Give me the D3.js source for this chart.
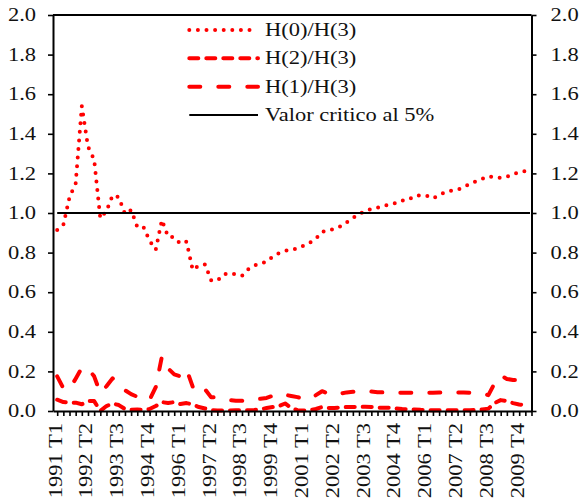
<!DOCTYPE html>
<html>
<head>
<meta charset="utf-8">
<script src="https://cdn.jsdelivr.net/npm/d3@7"></script>
<style>
  body { margin: 0; background: #fff; }
  svg { display: block; }
  text { font-family: "Liberation Serif", serif; fill: #111; }
</style>
</head>
<body>
<svg id="chart" width="579" height="503"></svg>
<script>
// Quarterly sample: 1991 T1 .. 2010 T1
const startYear = 1991;
const nQuarters = 77;
const quarters = d3.range(nQuarters).map(i => `${startYear + Math.floor(i / 4)} T${(i % 4) + 1}`);

// Labelled quarters on the x axis (every fifth quarter)
const tickLabels = ["1991 T1", "1992 T2", "1993 T3", "1994 T4", "1996 T1", "1997 T2", "1998 T3", "1999 T4",
                    "2001 T1", "2002 T2", "2003 T3", "2004 T4", "2006 T1", "2007 T2", "2008 T3", "2009 T4"];

// H(0)/H(3)
const h0 = [0.914, 0.94, 1.08, 1.15, 1.54, 1.335, 1.27, 0.973, 1.01, 1.09,
            1.08, 0.995, 1.015, 0.93, 0.93, 0.86, 0.815, 0.965, 0.88, 0.878,
            0.845, 0.855, 0.712, 0.735, 0.74, 0.66, 0.658, 0.69, 0.697, 0.69,
            0.683, 0.715, 0.735, 0.743, 0.755, 0.78, 0.797, 0.808, 0.817, 0.82,
            0.835, 0.85, 0.87, 0.905, 0.912, 0.92, 0.933, 0.953, 0.975, 0.995,
            1.01, 1.02, 1.027, 1.035, 1.045, 1.05, 1.063, 1.066, 1.086, 1.089,
            1.087, 1.074, 1.09, 1.105, 1.113, 1.118, 1.13, 1.148, 1.16, 1.172,
            1.185, 1.182, 1.177, 1.183, 1.195, 1.207, 1.212];

// H(2)/H(3)
const h2 = [0.057, 0.045, 0.042, 0.042, 0.034, 0.05, 0.05, 0.0, 0.025, 0.038,
            0.03, 0.01, 0.006, 0.008, 0.005, 0.01, 0.025, 0.045, 0.04, 0.045,
            0.035, 0.04, 0.033, 0.02, 0.013, 0.005, 0.003, 0.002, 0.003, 0.004,
            0.004, 0.004, 0.005, 0.008, 0.015, 0.02, 0.025, 0.038, 0.015, 0.004,
            0.003, 0.004, 0.01, 0.02, 0.015, 0.015, 0.018, 0.02, 0.02, 0.02,
            0.022, 0.02, 0.017, 0.017, 0.016, 0.013, 0.01, 0.009, 0.008, 0.006,
            0.005, 0.004, 0.004, 0.004, 0.004, 0.004, 0.004, 0.004, 0.005, 0.008,
            0.012, 0.04, 0.055, 0.05, 0.04, 0.033, 0.03];

// H(1)/H(3)
const h1 = [0.175, 0.115, 0.11, 0.163, 0.218, 0.215, 0.175, 0.09, 0.125, 0.165,
            0.14, 0.105, 0.085, 0.072, 0.06, 0.056, 0.12, 0.275, 0.215, 0.185,
            0.175, 0.21, 0.123, 0.09, 0.11, 0.069, 0.07, 0.063, 0.055, 0.052,
            0.052, 0.058, 0.06, 0.062, 0.066, 0.077, 0.088, 0.082, 0.076, 0.07,
            0.062, 0.06, 0.08, 0.1, 0.088, 0.08, 0.088, 0.094, 0.097, 0.1,
            0.1, 0.098, 0.095, 0.094, 0.094, 0.093, 0.092, 0.092, 0.092, 0.092,
            0.092, 0.092, 0.093, 0.094, 0.094, 0.094, 0.094, 0.092, 0.089, 0.088,
            0.08, 0.14, 0.18, 0.162, 0.157, 0.157, 0.155];

// 5% critical value
const criticalValue = 1.0;

const yTicks = [0, 0.2, 0.4, 0.6, 0.8, 1.0, 1.2, 1.4, 1.6, 1.8, 2.0];

const legendItems = [
  { label: "H(0)/H(3)", key: "h0" },
  { label: "H(2)/H(3)", key: "h2" },
  { label: "H(1)/H(3)", key: "h1" },
  { label: "Valor critico al 5%", key: "crit" }
];

const styles = {
  h0:   { color: "#ff0000", width: 4, dash: "0 8.6", cap: "round" },
  h2:   { color: "#ff0000", width: 4, dash: "9 8", cap: "round" },
  h1:   { color: "#ff0000", width: 4, dash: "11 18", cap: "round" },
  crit: { color: "#000000", width: 2, dash: null, cap: "butt" }
};

// Wide serif look: Liberation Serif widened by a constant factor
const fontSize = 18;
const widen = 1.25;
function widenText(sel) {
  sel.each(function () {
    const w = this.getComputedTextLength();
    if (w > 0) {
      d3.select(this).attr("textLength", w * widen).attr("lengthAdjust", "spacingAndGlyphs");
    }
  });
}

const svg = d3.select("#chart");
const plotLeft = 53, plotRight = 531.5, plotTop = 15, plotBottom = 411;

const x = d3.scaleLinear().domain([-0.68, 77]).range([plotLeft, plotRight]);
const y = d3.scaleLinear().domain([0, 2]).range([plotBottom, plotTop]);

svg.append("rect").attr("width", 579).attr("height", 503).attr("fill", "#fff");

// Series
const line = d3.line().x((d, i) => x(i)).y(d => y(d));
const series = { h0, h2, h1 };
const g = svg.append("g");
["h0", "h2", "h1"].forEach(k => {
  const s = styles[k];
  g.append("path")
    .datum(series[k])
    .attr("d", line)
    .attr("fill", "none")
    .attr("stroke", s.color)
    .attr("stroke-width", s.width)
    .attr("stroke-linecap", s.cap)
    .attr("stroke-linejoin", "round")
    .attr("stroke-dasharray", s.dash);
});

// Critical value line
g.append("line")
  .attr("x1", x(0)).attr("x2", 530)
  .attr("y1", y(criticalValue)).attr("y2", y(criticalValue))
  .attr("stroke", styles.crit.color)
  .attr("stroke-width", styles.crit.width);

// Frame top
svg.append("line").attr("x1", plotLeft).attr("x2", plotRight).attr("y1", plotTop).attr("y2", plotTop)
  .attr("stroke", "#000").attr("stroke-width", 2);

// Axes
function styleAxis(sel) {
  sel.select(".domain").attr("stroke", "#000").attr("stroke-width", 2);
  sel.selectAll(".tick line").attr("stroke", "#000").attr("stroke-width", 1.6);
  sel.selectAll("text").attr("font-family", "Liberation Serif, serif").attr("font-size", fontSize).attr("fill", "#111");
}

svg.append("g").attr("transform", `translate(${plotLeft},0)`)
  .call(d3.axisLeft(y).tickValues(yTicks).tickFormat(d3.format(".1f")).tickSize(5).tickSizeOuter(0).tickPadding(12))
  .call(styleAxis)
  .selectAll(".tick text").call(widenText);

svg.append("g").attr("transform", `translate(${plotRight},0)`)
  .call(d3.axisRight(y).tickValues(yTicks).tickFormat(d3.format(".1f")).tickSize(5).tickSizeOuter(0).tickPadding(14))
  .call(styleAxis)
  .selectAll(".tick text").call(widenText);

const xAxis = svg.append("g").attr("transform", `translate(0,${plotBottom})`)
  .call(d3.axisBottom(x)
    .tickValues(d3.range(0, 78))
    .tickFormat(i => {
      const lab = quarters[i] || "";
      return tickLabels.includes(lab) ? lab : "";
    })
    .tickSize(5).tickSizeOuter(0))
  .call(styleAxis);

xAxis.selectAll(".tick text")
  .attr("transform", "rotate(-90)")
  .attr("x", -12)
  .attr("y", -2)
  .attr("dy", null)
  .attr("dominant-baseline", "central")
  .style("text-anchor", "end")
  .call(widenText);

// Legend
const legend = svg.append("g");
const rowY = [30, 58.3, 86.7, 115];
legendItems.forEach((item, i) => {
  const s = styles[item.key];
  legend.append("line")
    .attr("x1", 189.3).attr("x2", 258)
    .attr("y1", rowY[i]).attr("y2", rowY[i])
    .attr("stroke", s.color)
    .attr("stroke-width", s.width)
    .attr("stroke-linecap", s.cap)
    .attr("stroke-dasharray", s.dash);
  legend.append("text")
    .attr("x", 265).attr("y", rowY[i])
    .attr("dominant-baseline", "central")
    .attr("font-size", fontSize)
    .text(item.label)
    .call(widenText);
});
</script>
</body>
</html>
